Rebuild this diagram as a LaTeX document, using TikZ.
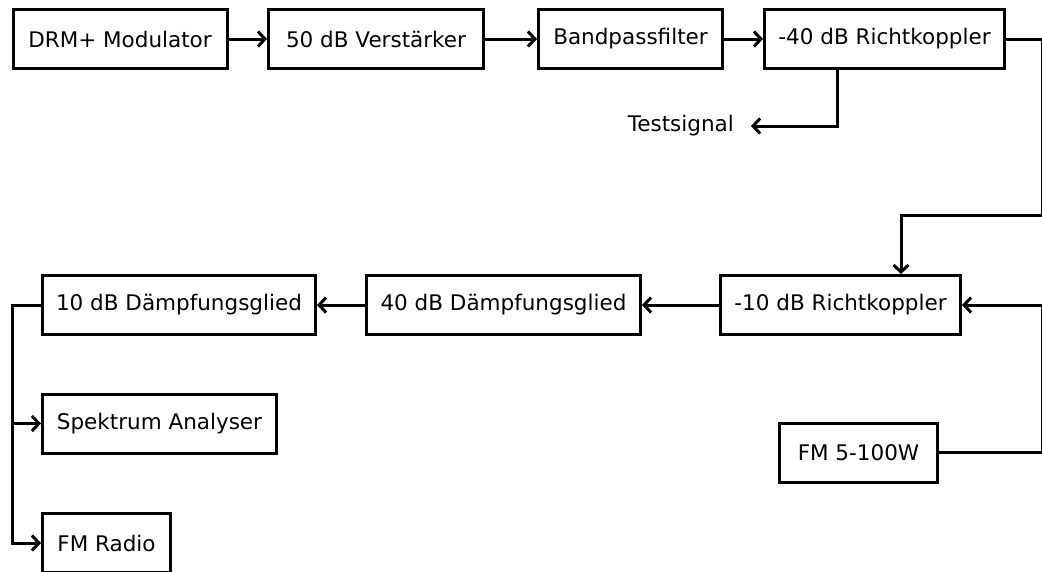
\documentclass[tikz,border=0pt]{standalone}
\usepackage{fontspec}
\setmainfont{DejaVu Sans}
\usetikzlibrary{arrows.meta}
\tikzset{
	block/.style = {
		shape=rectangle,
		draw,
		line width=3pt,
		align=center,
		minimum height=59pt,
		inner sep=0pt,
		font=\fontsize{21.5}{25}\selectfont
	},
	wire/.style = {line width=3pt},
	signal/.style = {wire, -{Straight Barb[length=7pt,width=15pt]}}
}

\begin{document}
\begin{tikzpicture}[x=1pt, y=-1pt]
	\useasboundingbox (0,0) rectangle (1042,571);
	% sender chain
	\node[block, minimum width=214] (drm) at (120,39) {DRM+ Modulator};
	\node[block, minimum width=215] (amp) at (376,39) {50 dB Verstärker};
	\node[block, minimum width=184] (bpf) at (630.5,39) {Bandpassfilter};
	\node[block, minimum width=240] (rk40) at (884.5,39) {-40 dB Richtkoppler};
	\node[font=\fontsize{21.5}{25}\selectfont, anchor=east, inner xsep=17pt, inner ysep=0pt] (test) at (751,126) {Testsignal};
	% coupler and attenuators
	\node[block, minimum width=240] (rk10) at (840.5,305) {-10 dB Richtkoppler};
	\node[block, minimum width=274] (att40) at (503.5,305) {40 dB Dämpfungsglied};
	\node[block, minimum width=273] (att10) at (179,305) {10 dB Dämpfungsglied};
	% receivers
	\node[block, minimum width=234] (spec) at (159.5,423.5) {Spektrum Analyser};
	\node[block, minimum width=128] (radio) at (106.5,543) {FM Radio};
	\node[block, minimum width=158] (fmtx) at (858.5,452.5) {FM 5-100W};

	\coordinate (tap) at (837,126);
	\coordinate (c2) at (1042,215);
	\coordinate (c3) at (901,215);
	\coordinate (c4) at (1042,305);
	\coordinate (bus) at (12,305);

	\draw[signal] (drm) -- (amp);
	\draw[signal] (amp) -- (bpf);
	\draw[signal] (bpf) -- (rk40);
	\draw[signal] (rk40.south -| tap) |- (test.east);
	\draw[signal] (rk40.east) -| (c2) -- (c3) -- (c3 |- rk10.north);
	\draw[signal] (fmtx.east) -| (c4) -- (rk10.east);
	\draw[signal] (rk10) -- (att40);
	\draw[signal] (att40) -- (att10);
	\draw[signal] (att10.west) -- (bus) |- (radio.west);
	\draw[signal] (bus) |- (spec.west);
\end{tikzpicture}
\end{document}
